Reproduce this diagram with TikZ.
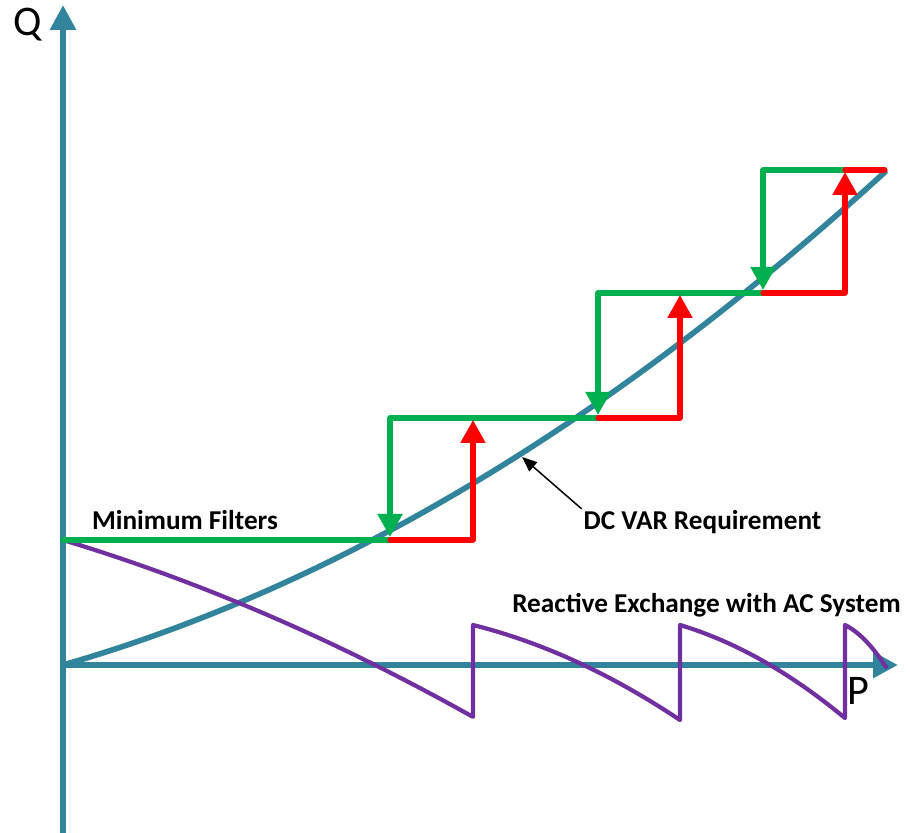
\documentclass[tikz,border=0pt]{standalone}
\usepackage{fontspec}
\setmainfont{Carlito}
\usetikzlibrary{arrows.meta}

\definecolor{axisblue}{RGB}{49,132,155}
\definecolor{filtgreen}{RGB}{0,176,80}
\definecolor{exchpurple}{RGB}{112,48,160}

\begin{document}
\begin{tikzpicture}[
  axis/.style={axisblue, line width=3.4pt, -{Triangle[width=5mm,length=5mm]}},
  dcvar/.style={axisblue, line width=3.2pt, line cap=round},
  filt/.style={filtgreen, line width=2.9pt, line cap=round, line join=round},
  swon/.style={red, line width=2.9pt, line cap=round, line join=round},
  exch/.style={exchpurple, line width=2.4pt, line cap=round, line join=round},
  tip/.style={-{Triangle[width=4.8mm,length=4.6mm]}},
  lbl/.style={font=\bfseries\fontsize{15.5}{18}\selectfont, inner sep=1pt},
  axlbl/.style={font=\fontsize{24}{26}\selectfont}
]
\useasboundingbox (-1.26,-3.36) rectangle (16.94,13.3);

\coordinate (O) at (0,0);
\coordinate (qbot) at (0,-3.36);
\coordinate (qtop) at (0,13.2);
\coordinate (ptip) at (16.7,0);

\draw[axis] (qbot) -- (qtop);
\draw[axis] (O) -- (ptip);
\node[axlbl] (qlab) at (-0.7,12.8) {Q};
\node[axlbl] (plab) at (15.9,-0.52) {P};

% DC VAR requirement
\draw[dcvar, domain=0:16.44, samples=60] plot (\x, {0.2869*\x+0.01903*\x*\x});

% reactive exchange with the AC system
\draw[exch] plot[domain=0:8.2] (\x, {2.5-0.302*\x-0.0158*\x*\x})
  -- plot[domain=8.2:12.34] (\x, {0.8-0.25*(\x-8.2)-0.0505*(\x-8.2)^2})
  -- plot[domain=12.34:15.64] (\x, {0.8-0.3*(\x-12.34)-0.08*(\x-12.34)^2})
  -- plot[domain=15.64:16.46] (\x, {0.8-0.5*(\x-15.64)-0.64*(\x-15.64)^2});

% filter switching
\draw[filt] (0,2.5) -- (6.54,2.5);
\draw[filt,tip] (10.7,4.94) -- (6.54,4.94) -- (6.54,2.56);
\draw[filt,tip] (14.0,7.44) -- (10.7,7.44) -- (10.7,5.0);
\draw[filt,tip] (15.64,9.9) -- (14.0,9.9) -- (14.0,7.5);

\draw[swon,tip] (6.54,2.5) -- (8.2,2.5) -- (8.2,4.9);
\draw[swon,tip] (10.7,4.94) -- (12.34,4.94) -- (12.34,7.4);
\draw[swon,tip] (14.0,7.44) -- (15.64,7.44) -- (15.64,9.86);
\draw[swon] (15.64,9.9) -- (16.44,9.9);

\node[lbl, anchor=base] (minfilt) at (2.44,2.7) {Minimum Filters};
\node[lbl, anchor=base] (dclab) at (12.79,2.7) {DC VAR Requirement};
\node[lbl, anchor=base] (exlab) at (12.87,1.04) {Reactive Exchange with AC System};

\coordinate (dcpt) at (9.18,4.16);
\draw[black, line width=0.85pt, -{Triangle[width=2.4mm,length=3mm]}] (dclab.north west) -- (dcpt);

\end{tikzpicture}
\end{document}
